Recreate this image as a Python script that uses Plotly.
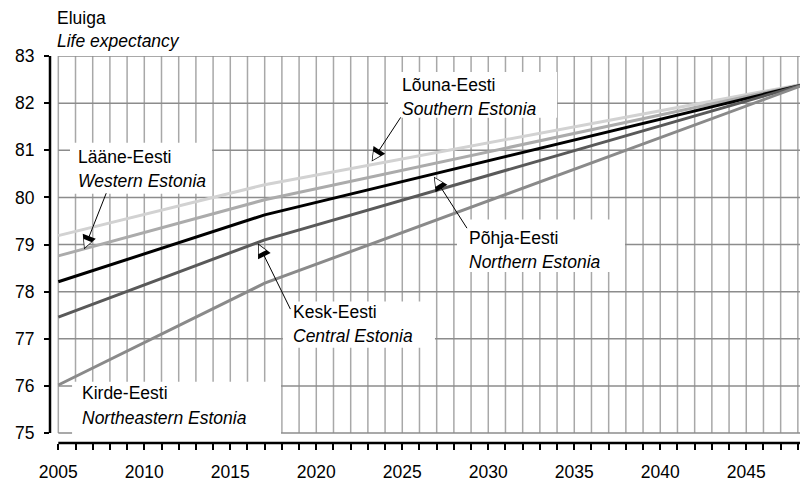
import plotly.graph_objects as go

# Eluiga prognoos piirkonniti (väärtused loetud jooniselt)
years = [2005, 2017, 2050]
louna = [79.19, 80.27, 82.52]
laane = [78.76, 79.95, 82.53]
pohja = [78.21, 79.63, 82.54]
kesk = [77.46, 79.10, 82.57]
kirde = [76.02, 78.18, 82.61]

y_ticks = [75, 76, 77, 78, 79, 80, 81, 82, 83]

FONT = "Liberation Sans, Arial, sans-serif"
FS = 17.5
X0, X1 = 2004.517, 2048.59
Y0, Y1 = 74.79, 83

series = [
    ("Lõuna-Eesti", louna, "#d2d2d2"),
    ("Lääne-Eesti", laane, "#ababab"),
    ("Põhja-Eesti", pohja, "#000000"),
    ("Kesk-Eesti", kesk, "#595959"),
    ("Kirde-Eesti", kirde, "#8a8a8a"),
]

fig = go.Figure()
for name, vals, color in series:
    fig.add_trace(go.Scatter(x=years, y=vals, mode="lines", name=name,
                             line=dict(color=color, width=3), showlegend=False))

shapes = []
# ruudustik
for yr in range(2005, 2049):
    shapes.append(dict(type="line", xref="x", yref="y", x0=yr, x1=yr, y0=75, y1=83,
                       line=dict(color="#a8a8a8", width=1.5), layer="below"))
for v in y_ticks:
    shapes.append(dict(type="line", xref="x", yref="y", x0=2005, x1=X1, y0=v, y1=v,
                       line=dict(color="#8c8c8c", width=1.5), layer="below"))

# valged kastid siltide all
boxes = [
    (2005.68, 2013.94, 80.08, 81.16),
    (2024.17, 2034.0, 81.69, 82.66),
    (2028.18, 2037.95, 78.42, 79.53),
    (2018.06, 2026.9, 76.81, 77.79),
    (2005.8, 2017.95, 74.95, 76.09),
]
for bx0, bx1, by0, by1 in boxes:
    shapes.append(dict(type="rect", xref="x", yref="y", x0=bx0, x1=bx1, y0=by0, y1=by1,
                       fillcolor="white", line=dict(width=0), layer="below"))

# teljejooned
shapes.append(dict(type="line", xref="paper", yref="y", x0=0, x1=0, y0=75, y1=83,
                   line=dict(color="black", width=2.5)))
shapes.append(dict(type="line", xref="x", yref="paper", x0=2005, x1=X1, y0=0, y1=0,
                   line=dict(color="black", width=2.5)))

annotations = []
labels = [
    ("Lääne-Eesti", "Western Estonia", 2006.0, 80.86, 80.35),
    ("Lõuna-Eesti", "Southern Estonia", 2024.85, 82.39, 81.88),
    ("Põhja-Eesti", "Northern Estonia", 2028.75, 79.14, 78.64),
    ("Kesk-Eesti", "Central Estonia", 2018.55, 77.56, 77.05),
    ("Kirde-Eesti", "Northeastern Estonia", 2006.25, 75.86, 75.33),
]
for et, en, lx, ly1, ly2 in labels:
    annotations.append(dict(x=lx, y=ly1, text=et, showarrow=False, xanchor="left",
                            yanchor="middle", font=dict(family=FONT, size=FS, color="black")))
    annotations.append(dict(x=lx, y=ly2, text="<i>" + en + "</i>", showarrow=False,
                            xanchor="left", yanchor="middle",
                            font=dict(family=FONT, size=FS, color="black")))

# nooled: ots andmeruumis, saba pikslites
arrows = [
    (2006.5, 78.9, 22.7, -57.5),
    (2023.22, 80.76, 30, -45.7),
    (2026.84, 80.44, 34, 53),
    (2016.62, 79.02, 33, 67),
]
for hx, hy, ax, ay in arrows:
    annotations.append(dict(x=hx, y=hy, ax=ax, ay=ay, text="", showarrow=True,
                            arrowhead=2, arrowsize=2.8, arrowwidth=1, arrowcolor="black"))
    # valge sisu, et nooleots oleks õõnes
    n = (ax ** 2 + ay ** 2) ** 0.5
    annotations.append(dict(x=hx, y=hy, ax=ax * 9 / n, ay=ay * 9 / n, text="", showarrow=True,
                            arrowhead=2, arrowsize=1.6, arrowwidth=1, standoff=1.5,
                            arrowcolor="white"))

# telje pealkiri
annotations.append(dict(xref="paper", yref="paper", x=0.006, y=1.097, text="Eluiga",
                        showarrow=False, xanchor="left", yanchor="middle",
                        font=dict(family=FONT, size=FS, color="black")))
annotations.append(dict(xref="paper", yref="paper", x=0.006, y=1.040,
                        text="<i>Life expectancy</i>", showarrow=False,
                        xanchor="left", yanchor="middle",
                        font=dict(family=FONT, size=FS, color="black")))

fig.update_layout(
    width=800, height=474,
    margin=dict(l=42, r=0, t=48, b=39),
    paper_bgcolor="white", plot_bgcolor="white",
    font=dict(family=FONT, color="black"),
    shapes=shapes, annotations=annotations,
)
fig.update_xaxes(
    range=[X0, X1], tickmode="linear", tick0=2005, dtick=5,
    ticks="outside", ticklen=6, tickwidth=1.5, tickcolor="black",
    showgrid=False, zeroline=False, showline=False, automargin=False,
    ticklabelstandoff=7, tickfont=dict(size=FS),
    minor=dict(dtick=1, tick0=2005, ticks="outside", ticklen=6, tickwidth=1.5,
               tickcolor="black", showgrid=False),
)
fig.update_yaxes(
    range=[Y0, Y1], tickvals=y_ticks,
    ticks="outside", ticklen=5, tickwidth=1.5, tickcolor="black",
    showgrid=False, zeroline=False, showline=False, automargin=False,
    ticklabelstandoff=6, tickfont=dict(size=FS),
)

fig.write_html("out.html")
